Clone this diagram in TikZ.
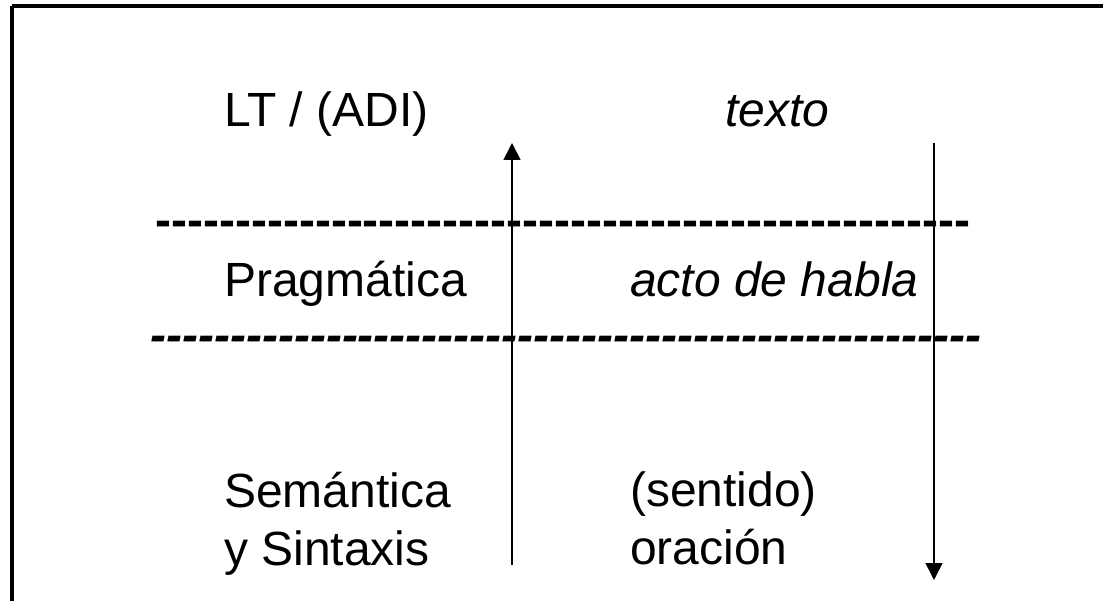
\documentclass[tikz,border=0pt]{standalone}
\usepackage{fontspec}
\setmainfont{Liberation Sans}
\usetikzlibrary{arrows.meta}
\newcommand\hyphrow[1]{\foreach\i in {1,...,#1}{-}}
\begin{document}
\begin{tikzpicture}[x=1pt,y=-1pt,
  lbl/.style={anchor=base west,inner sep=0pt,font=\fontsize{48}{58}\selectfont},
  ilbl/.style={lbl,font=\fontsize{48}{58}\selectfont\itshape},
  dashrow/.style={lbl,font=\fontsize{48}{58}\selectfont\bfseries},
  idashrow/.style={lbl,font=\fontsize{48}{58}\selectfont\bfseries\itshape},
  arr/.style={line width=1.6pt,-{Triangle[width=17pt,length=17pt]}},
  frame/.style={line width=3.5pt}]
\useasboundingbox (0,0) rectangle (1103,601);
\begin{scope}
\clip (0,0) rectangle (1103,601);
\draw[frame] (12,6) -- (1120,6);
\draw[frame] (12,6) -- (12,620);
\end{scope}
\node[lbl] (lt) at (224,127) {LT / (ADI)};
\node[ilbl] (texto) at (725,127) {texto};
\node[dashrow] (d1) at (155,237) {\hyphrow{51}};
\node[lbl] (prag) at (224,297) {Pragmática};
\node[ilbl] (acto) at (630,297) {acto de habla};
\node[idashrow] (d2) at (150,352) {\hyphrow{52}};
\node[lbl,align=left,anchor=north west] (sem) at (224,472) {Semántica\\y Sintaxis};
\node[lbl,align=left,anchor=north west] (sent) at (630,472) {(sentido)\\oración};
\coordinate (ua) at (512,565);
\coordinate (ub) at (512,143);
\coordinate (da) at (934,143);
\coordinate (db) at (934,580);
\draw[arr] (ua) -- (ub);
\draw[arr] (da) -- (db);
\end{tikzpicture}
\end{document}
